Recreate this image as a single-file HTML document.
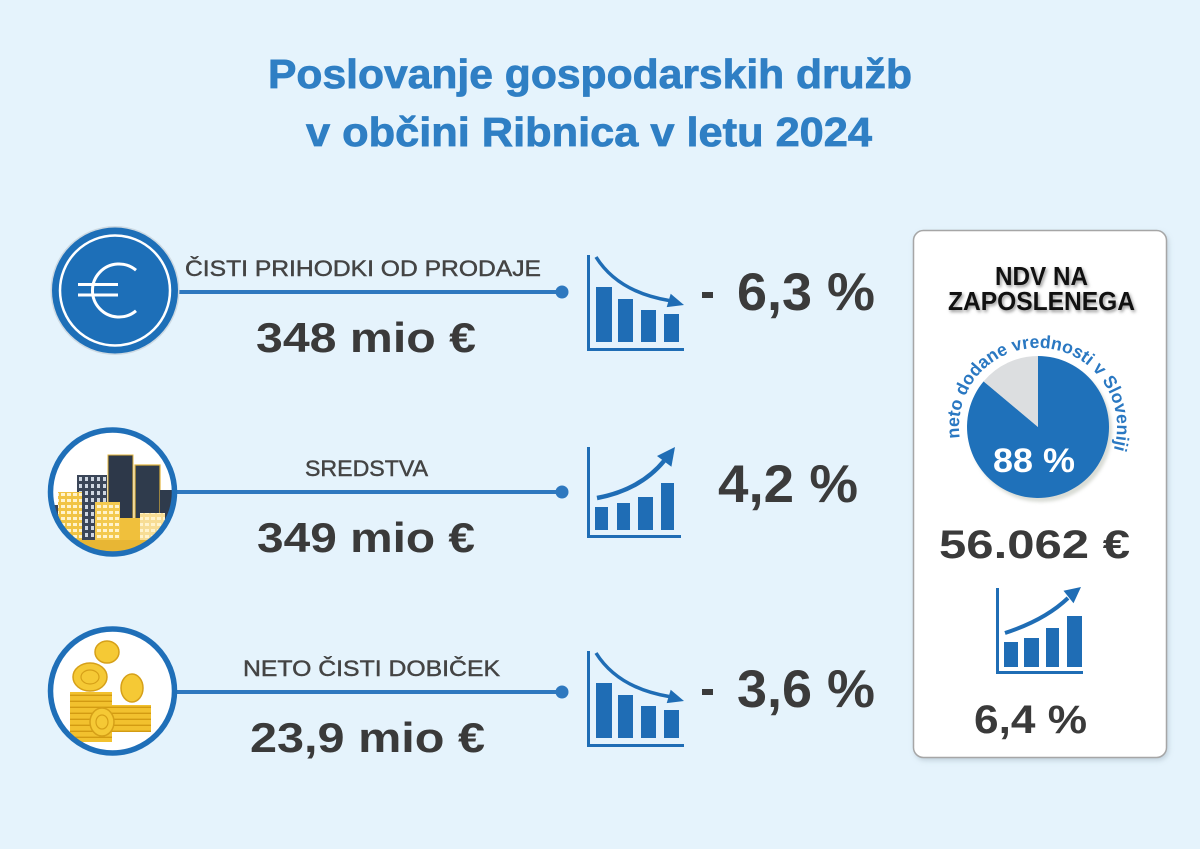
<!DOCTYPE html>
<html><head><meta charset="utf-8">
<style>
html,body{margin:0;padding:0;background:#e5f3fc;}
svg{display:block}
text{font-family:"Liberation Sans",sans-serif;}
</style></head><body>
<svg width="1200" height="849" viewBox="0 0 1200 849" xmlns="http://www.w3.org/2000/svg">
<defs>
 <filter id="bl" x="-20%" y="-20%" width="140%" height="140%"><feGaussianBlur stdDeviation="1.6"/></filter>
 <filter id="bl2" x="-20%" y="-20%" width="140%" height="140%"><feGaussianBlur stdDeviation="3"/></filter>
 <clipPath id="c2"><circle cx="112.5" cy="492" r="60"/></clipPath>
 <clipPath id="c3"><circle cx="112.5" cy="691" r="60"/></clipPath>
 <pattern id="wd" width="6" height="7" patternUnits="userSpaceOnUse"><rect x="1" y="1" width="3" height="4" fill="#cfd7e2"/></pattern>
 <pattern id="wy" width="6" height="6" patternUnits="userSpaceOnUse"><rect x="1" y="1" width="4" height="3" fill="#fff3cc"/></pattern>
 <pattern id="cs" width="10" height="6" patternUnits="userSpaceOnUse"><rect x="0" y="4.6" width="10" height="1.4" fill="#d39b12"/></pattern>
 <path id="arc" d="M 959.8 438 A 79 79 0 1 1 1113.5 450.1"/>
</defs>
<rect width="1200" height="849" fill="#e5f3fc"/>

<!-- Title -->
<g font-size="41" font-weight="bold" fill="#2f7fc4" stroke="#2f7fc4" stroke-width="0.8">
<text x="268" y="88" textLength="644" lengthAdjust="spacingAndGlyphs">Poslovanje gospodarskih družb</text>
<text x="306" y="146" textLength="566" lengthAdjust="spacingAndGlyphs">v občini Ribnica v letu 2024</text>
</g>

<!-- connector lines -->
<g fill="#2e78bf">
 <rect x="172" y="290" width="390" height="4"/>
 <circle cx="562" cy="292" r="6.5"/>
 <rect x="172" y="490" width="390" height="4"/>
 <circle cx="562" cy="492" r="6.5"/>
 <rect x="172" y="690" width="390" height="4"/>
 <circle cx="562" cy="692" r="6.5"/>
</g>

<!-- Circle 1: euro -->
<circle cx="115" cy="290.5" r="64.5" fill="#cdd9e2"/>
<circle cx="115" cy="290.5" r="63" fill="#1d6fb8"/>
<circle cx="115" cy="290.5" r="55" fill="none" stroke="#ffffff" stroke-width="2.5"/>
<path d="M136 270.2 A26.5 26.5 0 1 0 136 310.8" fill="none" stroke="#ffffff" stroke-width="3"/>
<rect x="78" y="283" width="40" height="3" fill="#fff"/>
<rect x="78" y="293.5" width="40" height="3" fill="#fff"/>

<!-- Circle 2: buildings -->
<circle cx="112.5" cy="492" r="62" fill="#ffffff"/>
<g clip-path="url(#c2)">
 <rect x="77" y="475" width="30" height="75" fill="#3b4658"/>
 <rect x="77" y="475" width="30" height="75" fill="url(#wd)"/>
 <rect x="108" y="455" width="25" height="95" fill="#2d3849" stroke="#e2b43c" stroke-width="1"/>
 <rect x="135" y="465" width="25" height="85" fill="#2f3b4c" stroke="#e2b43c" stroke-width="1.2"/>
 <rect x="160" y="490" width="12" height="60" fill="#2f3b4c"/>
 <rect x="58" y="492" width="24" height="58" fill="#f1c445"/>
 <rect x="58" y="492" width="24" height="58" fill="url(#wy)"/>
 <rect x="48" y="505" width="10" height="45" fill="#3b4658"/>
 <rect x="95" y="502" width="25" height="48" fill="#f3c94f"/>
 <rect x="95" y="502" width="25" height="48" fill="url(#wy)"/>
 <rect x="120" y="518" width="20" height="32" fill="#f0c03c"/>
 <rect x="140" y="513" width="25" height="37" fill="#f7dd95"/>
 <rect x="140" y="513" width="25" height="37" fill="url(#wy)"/>
 <rect x="48" y="540" width="130" height="12" fill="#e8b634"/>
</g>
<circle cx="112.5" cy="492" r="62" fill="none" stroke="#1f6fb8" stroke-width="5.5"/>

<!-- Circle 3: coins -->
<circle cx="112.5" cy="691" r="62" fill="#ffffff"/>
<g clip-path="url(#c3)">
 <rect x="70" y="692" width="42" height="50" fill="#f2c12e"/>
 <rect x="70" y="692" width="42" height="50" fill="url(#cs)"/>
 <rect x="112" y="705" width="39" height="27" fill="#f2c12e"/>
 <rect x="112" y="705" width="39" height="27" fill="url(#cs)"/>
 <ellipse cx="90" cy="677" rx="17" ry="14" fill="#f5c935" stroke="#d6a018" stroke-width="1.5"/>
 <ellipse cx="90" cy="677" rx="9" ry="7" fill="none" stroke="#d6a018" stroke-width="1.2"/>
 <ellipse cx="107" cy="652" rx="12" ry="11" fill="#f5c935" stroke="#d6a018" stroke-width="1.5"/>
 <ellipse cx="132" cy="688" rx="11" ry="14" fill="#f5c935" stroke="#d6a018" stroke-width="1.5"/>
 <ellipse cx="102" cy="722" rx="12" ry="14" fill="#f5c935" stroke="#d6a018" stroke-width="1.5"/>
 <ellipse cx="102" cy="722" rx="6" ry="7" fill="none" stroke="#d6a018" stroke-width="1.2"/>
</g>
<circle cx="112.5" cy="691" r="62" fill="none" stroke="#1f6fb8" stroke-width="5.5"/>

<!-- Labels -->
<g font-size="22" fill="#444" stroke="#444" stroke-width="0.45">
 <text x="185" y="276" textLength="356" lengthAdjust="spacingAndGlyphs">ČISTI PRIHODKI OD PRODAJE</text>
 <text x="305" y="476" textLength="123" lengthAdjust="spacingAndGlyphs">SREDSTVA</text>
 <text x="243" y="676" textLength="257" lengthAdjust="spacingAndGlyphs">NETO ČISTI DOBIČEK</text>
</g>

<!-- Values -->
<g font-size="42" font-weight="bold" fill="#3a3a3a">
 <text x="256" y="352" textLength="220" lengthAdjust="spacingAndGlyphs">348 mio €</text>
 <text x="257" y="552" textLength="218" lengthAdjust="spacingAndGlyphs">349 mio €</text>
 <text x="250" y="752" textLength="235" lengthAdjust="spacingAndGlyphs">23,9 mio €</text>
</g>

<!-- Icon 1 (down) -->
<g fill="#1f6db5">
 <rect x="587" y="255" width="3" height="96"/>
 <rect x="587" y="348" width="97" height="3"/>
 <rect x="596" y="287" width="16" height="55"/>
 <rect x="618" y="299" width="15" height="43"/>
 <rect x="641" y="310" width="15" height="32"/>
 <rect x="664" y="314" width="15" height="28"/>
 <path d="M596 257 Q 618 292 669 300.5" fill="none" stroke="#1f6db5" stroke-width="3.5"/>
 <polygon points="684,305 666.7,307.1 670.7,293.7"/>
</g>
<!-- Icon 3 (down) -->
<g fill="#1f6db5" transform="translate(0,396)">
 <rect x="587" y="255" width="3" height="96"/>
 <rect x="587" y="348" width="97" height="3"/>
 <rect x="596" y="287" width="16" height="55"/>
 <rect x="618" y="299" width="15" height="43"/>
 <rect x="641" y="310" width="15" height="32"/>
 <rect x="664" y="314" width="15" height="28"/>
 <path d="M596 257 Q 618 292 669 300.5" fill="none" stroke="#1f6db5" stroke-width="3.5"/>
 <polygon points="684,305 666.7,307.1 670.7,293.7"/>
</g>
<!-- Icon 2 (up) -->
<g fill="#1f6db5">
 <rect x="587" y="447" width="3" height="91"/>
 <rect x="587" y="535" width="94" height="3"/>
 <rect x="595" y="507" width="13" height="23"/>
 <rect x="617" y="503" width="13" height="27"/>
 <rect x="638" y="497" width="15" height="33"/>
 <rect x="661" y="483" width="13" height="47"/>
 <path d="M597 498 Q 640 490 664 461" fill="none" stroke="#1f6db5" stroke-width="4.5"/>
 <polygon points="675,447 671.4,466.8 657,456"/>
</g>

<!-- Percentages -->
<g font-size="53" font-weight="bold" fill="#3b3b3b">
 <rect x="702" y="292" width="11" height="6"/>
 <text x="737" y="310" textLength="138" lengthAdjust="spacingAndGlyphs">6,3 %</text>
 <text x="718" y="502" textLength="140" lengthAdjust="spacingAndGlyphs">4,2 %</text>
 <rect x="702" y="689" width="11" height="6"/>
 <text x="737" y="707" textLength="138" lengthAdjust="spacingAndGlyphs">3,6 %</text>
</g>

<!-- Card -->
<rect x="915" y="233" width="253" height="527" rx="10" fill="#9fb0bd" filter="url(#bl2)" opacity="0.6"/>
<rect x="913.5" y="230.5" width="253" height="527" rx="10" fill="#ffffff" stroke="#a6a6a6" stroke-width="1.5"/>

<g font-size="26" font-weight="bold">
 <text x="996.5" y="287" fill="#999" filter="url(#bl)" textLength="93" lengthAdjust="spacingAndGlyphs">NDV NA</text>
 <text x="949.5" y="312" fill="#999" filter="url(#bl)" textLength="187" lengthAdjust="spacingAndGlyphs">ZAPOSLENEGA</text>
 <text x="995" y="285" fill="#111" textLength="93" lengthAdjust="spacingAndGlyphs">NDV NA</text>
 <text x="948" y="310" fill="#111" textLength="187" lengthAdjust="spacingAndGlyphs">ZAPOSLENEGA</text>
</g>

<!-- Pie -->
<circle cx="1041" cy="431" r="71" fill="#c9cdc4" filter="url(#bl)" opacity="0.7"/>
<path d="M1038 427 L1038 356 A71 71 0 1 1 983.6 381.4 Z" fill="#1f71ba"/>
<path d="M1038 427 L983.6 381.4 A71 71 0 0 1 1038 356 Z" fill="#dcdee0"/>
<text font-size="18" font-weight="bold" fill="#2a78c2"><textPath href="#arc" textLength="282" lengthAdjust="spacingAndGlyphs">neto dodane vrednosti v Sloveniji</textPath></text>
<text x="993" y="472" font-size="34" font-weight="bold" fill="#ffffff" textLength="82" lengthAdjust="spacingAndGlyphs">88 %</text>

<text x="939" y="558" font-size="40" font-weight="bold" fill="#3a3a3a" textLength="191" lengthAdjust="spacingAndGlyphs">56.062 €</text>

<!-- Icon 4 (up) -->
<g fill="#1f6db5">
 <rect x="996" y="588" width="3" height="86"/>
 <rect x="996" y="671" width="87" height="3"/>
 <rect x="1004" y="642" width="14" height="25"/>
 <rect x="1024" y="638" width="15" height="29"/>
 <rect x="1046" y="628" width="13" height="39"/>
 <rect x="1067" y="616" width="15" height="51"/>
 <path d="M1005 633 Q 1045 620 1068 598" fill="none" stroke="#1f6db5" stroke-width="4"/>
 <polygon points="1081,587 1073.5,603.2 1063.5,590.8"/>
</g>

<text x="974" y="733" font-size="40" font-weight="bold" fill="#3a3a3a" textLength="113" lengthAdjust="spacingAndGlyphs">6,4 %</text>
</svg>
</body></html>
